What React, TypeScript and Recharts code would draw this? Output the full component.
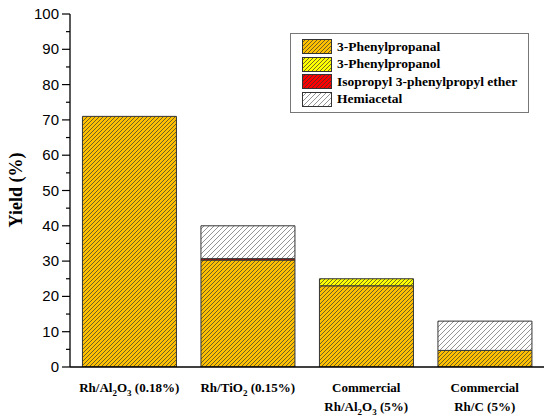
import React from 'react';
import { BarChart, Bar, XAxis, YAxis, Legend } from 'recharts';

// categories and series values
const categories = ['Rh/Al2O3 (0.18%)', 'Rh/TiO2 (0.15%)', 'Commercial\nRh/Al2O3 (5%)', 'Commercial\nRh/C (5%)'];
const phenylpropanal = [71, 30.3, 23.0, 4.7];
const phenylpropanol = [0, 0, 2.0, 0];
const etherValues = [0, 0.4, 0, 0];
const hemiacetal = [0, 9.3, 0, 8.3];
const yTicks = [0, 5, 10, 15, 20, 25, 30, 35, 40, 45, 50, 55, 60, 65, 70, 75, 80, 85, 90, 95, 100];

const series = [
  { key: 'propanal', name: '3-Phenylpropanal', fill: '#FFC000', pattern: 'hatch-orange' },
  { key: 'propanol', name: '3-Phenylpropanol', fill: '#FFFF00', pattern: 'hatch-yellow' },
  { key: 'ether', name: 'Isopropyl 3-phenylpropyl ether', fill: '#FF0000', pattern: 'hatch-red' },
  { key: 'hemi', name: 'Hemiacetal', fill: '#FFFFFF', pattern: 'hatch-white' },
];

const data = categories.map((name, i) => ({
  name,
  propanal: phenylpropanal[i],
  propanol: phenylpropanol[i],
  ether: etherValues[i],
  hemi: hemiacetal[i],
}));

const serif = '"Liberation Serif", "Times New Roman", serif';
const sans = '"Liberation Sans", Arial, sans-serif';

// digits right after a letter become subscripts (Al2O3, TiO2)
const renderChem = (line: string) => {
  const parts: React.ReactNode[] = [];
  let sub = false;
  for (let i = 0; i < line.length; i++) {
    const ch = line[i];
    const isSub = /[0-9]/.test(ch) && i > 0 && /[A-Za-z]/.test(line[i - 1]);
    if (isSub) {
      parts.push(<tspan key={i} fontSize={9} dy={sub ? 0 : 4}>{ch}</tspan>);
      sub = true;
    } else if (sub) {
      parts.push(<tspan key={i} dy={-4}>{ch}</tspan>);
      sub = false;
    } else {
      parts.push(<tspan key={i}>{ch}</tspan>);
    }
  }
  return parts;
};

const XTick = (props: any) => {
  const { x, y, payload } = props;
  const lines = String(payload.value).split('\n');
  return (
    <g>
      {lines.map((ln, i) => (
        <text key={i} x={x} y={y + 25 + i * 19} textAnchor="middle" fontFamily={serif} fontWeight="bold" fontSize={13} fill="#000">
          {renderChem(ln)}
        </text>
      ))}
    </g>
  );
};

const YTick = (props: any) => {
  const { x, y, payload } = props;
  const major = payload.value % 10 === 0;
  return (
    <g>
      <line x1={x - (major ? 8 : 4)} x2={x} y1={y} y2={y} stroke="#000" strokeWidth={1.2} />
      {major && (
        <text x={x - 11} y={y + 5} textAnchor="end" fontFamily={sans} fontSize={15} fill="#000">
          {payload.value}
        </text>
      )}
    </g>
  );
};

const LegendBox = () => (
  <div style={{ border: '1px solid #777', background: '#fff', padding: '4px 0 4px 11px', width: 226 }}>
    {series.map((s) => (
      <div key={s.key} style={{ display: 'flex', alignItems: 'center', height: 17.5 }}>
        <svg width={30} height={15} style={{ marginRight: 5 }}>
          <rect x={0.5} y={0.5} width={29} height={14} fill={`url(#${s.pattern})`} stroke="#333" strokeWidth={1} />
        </svg>
        <span style={{ fontFamily: serif, fontWeight: 'bold', fontSize: 13.5, color: '#000', whiteSpace: 'nowrap' }}>{s.name}</span>
      </div>
    ))}
  </div>
);

const Hatch = ({ id, fill, size }: { id: string; fill: string; size: number }) => (
  <pattern id={id} patternUnits="userSpaceOnUse" width={size} height={size}>
    <rect width={size} height={size} fill={fill} />
    <path
      d={`M-1,1 L1,-1 M0,${size} L${size},0 M${size - 1},${size + 1} L${size + 1},${size - 1}`}
      stroke={fill === '#FFFFFF' ? '#666' : '#333'}
      strokeWidth={0.7}
    />
  </pattern>
);

export default function App() {
  return (
    <div style={{ position: 'absolute', left: 0, top: 0 }}>
      <BarChart width={550} height={419} data={data} barCategoryGap="10.5%" margin={{ top: 14, right: 6, bottom: 7, left: 20 }}>
        <defs>
          <Hatch id="hatch-orange" fill="#FFC000" size={4} />
          <Hatch id="hatch-yellow" fill="#FFFF00" size={4} />
          <Hatch id="hatch-red" fill="#FF0000" size={4} />
          <Hatch id="hatch-white" fill="#FFFFFF" size={5} />
        </defs>
        <XAxis dataKey="name" tick={<XTick />} tickLine={false} tickSize={0} tickMargin={0} height={45} axisLine={{ stroke: '#000', strokeWidth: 1.3 }} interval={0} />
        <XAxis xAxisId="top" dataKey="name" orientation="top" tick={false} tickLine={false} height={0} axisLine={{ stroke: '#000', strokeWidth: 1.3 }} />
        <YAxis domain={[0, 100]} ticks={yTicks} interval={0} tick={<YTick />} tickLine={false} tickSize={0} tickMargin={0} width={50} axisLine={{ stroke: '#000', strokeWidth: 1.3 }} allowDataOverflow />
        <YAxis yAxisId="right" orientation="right" domain={[0, 100]} tick={false} tickLine={false} width={0} axisLine={{ stroke: '#000', strokeWidth: 1.3 }} />
        <Legend layout="vertical" align="center" verticalAlign="middle" content={<LegendBox />} wrapperStyle={{ left: 290, top: 33, width: 238 }} />
        {series.map((s) => (
          <Bar key={s.key} dataKey={s.key} name={s.name} stackId="yield" fill={`url(#${s.pattern})`} stroke="#333" strokeWidth={1} isAnimationActive={false} />
        ))}
        <text x={22} y={190} transform="rotate(-90 22 190)" textAnchor="middle" fontFamily={serif} fontWeight="bold" fontSize={18} fill="#000">
          Yield (%)
        </text>
      </BarChart>
    </div>
  );
}
